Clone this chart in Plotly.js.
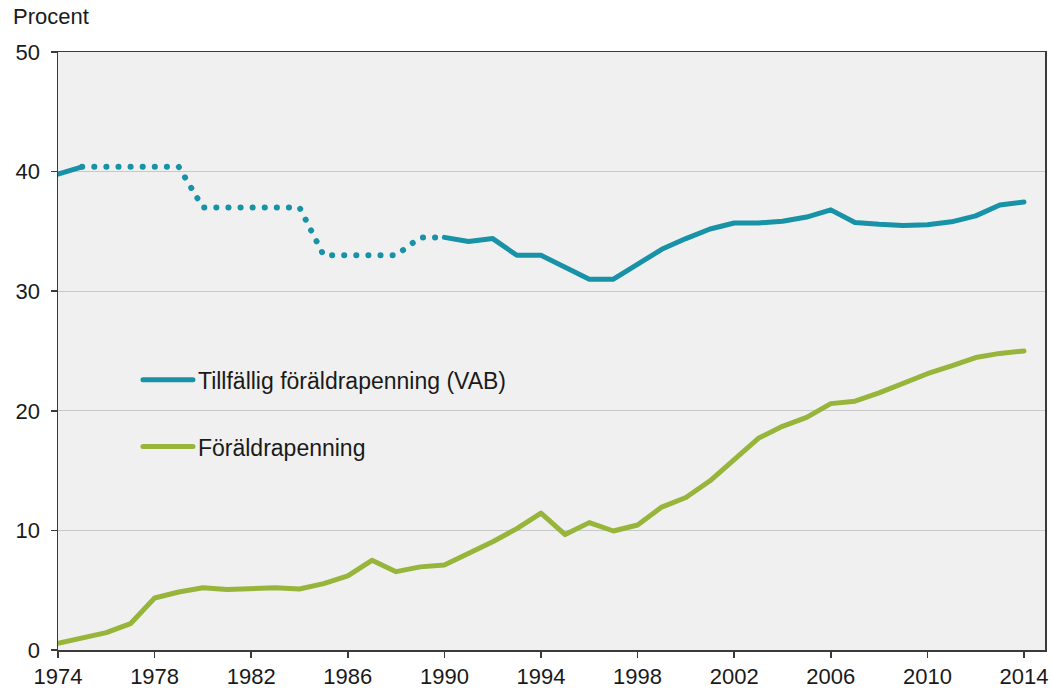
<!DOCTYPE html>
<html>
<head>
<meta charset="utf-8">
<script src="https://cdn.plot.ly/plotly-3.0.1.min.js"></script>
<style>html,body{margin:0;padding:0;background:#fff;}#chart{width:1051px;height:688px;}</style>
</head>
<body>
<div id="chart"></div>
<script>
// Tillfällig föräldrapenning (VAB) – solid start
const vabStartYears = [1974, 1975];
const vabStartValues = [39.8, 40.4];
// VAB – dotted (uncertain) segment
const vabDotYears = [1975,1976,1977,1978,1979,1980,1981,1982,1983,1984,1985,1986,1987,1988,1989,1990];
const vabDotValues = [40.4,40.4,40.4,40.4,40.4,37.0,37.0,37.0,37.0,37.0,33.0,33.0,33.0,33.0,34.5,34.5];
// VAB – solid segment
const vabYears = [1990,1991,1992,1993,1994,1995,1996,1997,1998,1999,2000,2001,2002,2003,2004,2005,2006,2007,2008,2009,2010,2011,2012,2013,2014];
const vabValues = [34.5,34.15,34.4,33.0,33.0,32.0,31.0,31.0,32.3,33.5,34.4,35.2,35.7,35.7,35.85,36.2,36.8,35.75,35.6,35.5,35.55,35.8,36.3,37.2,37.45];
// Föräldrapenning
const fpYears = [1974,1975,1976,1977,1978,1979,1980,1981,1982,1983,1984,1985,1986,1987,1988,1989,1990,1991,1992,1993,1994,1995,1996,1997,1998,1999,2000,2001,2002,2003,2004,2005,2006,2007,2008,2009,2010,2011,2012,2013,2014];
const fpValues = [0.56,1.0,1.45,2.2,4.35,4.85,5.2,5.05,5.1,5.2,5.1,5.55,6.2,7.5,6.55,6.95,7.1,8.05,9.05,10.15,11.45,9.65,10.65,9.95,10.45,11.95,12.75,14.15,15.95,17.7,18.7,19.45,20.6,20.8,21.5,22.35,23.1,23.75,24.45,24.8,25.0];
const xTicks = [1974,1978,1982,1986,1990,1994,1998,2002,2006,2010,2014];
const yTicks = [0,10,20,30,40,50];
const vabName = 'Tillfällig föräldrapenning (VAB)';
const fpName = 'Föräldrapenning';

const teal = '#1792a7';
const green = '#97b43b';

const traces = [
  {x: vabStartYears, y: vabStartValues, type:'scatter', mode:'lines', line:{color:teal, width:5}, showlegend:false, hoverinfo:'skip'},
  {x: vabDotYears, y: vabDotValues, type:'scatter', mode:'lines', line:{color:teal, width:6, dash:'2px,10px'}, showlegend:false, hoverinfo:'skip', name:'dots'},
  {x: vabYears, y: vabValues, type:'scatter', mode:'lines', name: vabName, legendgroup:'a', line:{color:teal, width:5}},
  {x: fpYears, y: fpValues, type:'scatter', mode:'lines', name: fpName, legendgroup:'b', line:{color:green, width:5}}
];

const layout = {
  width:1051, height:688,
  margin:{l:58, r:6, t:52, b:38},
  paper_bgcolor:'#ffffff',
  plot_bgcolor:'#f0f0f0',
  font:{family:'Liberation Sans, Arial, sans-serif', size:22, color:'#1a1a1a'},
  xaxis:{
    range:[1974, 2014.87], tickvals:xTicks, ticktext:xTicks.map(String),
    showgrid:false, zeroline:false, showline:true, linecolor:'#3a3a3a', linewidth:1.5, mirror:true,
    ticks:'outside', ticklen:6, tickcolor:'#3a3a3a', tickwidth:1.5, tickfont:{size:22}
  },
  yaxis:{
    range:[0,50], tickvals:yTicks, showgrid:true, gridcolor:'#c8c8c8', gridwidth:1.2,
    zeroline:false, showline:true, linecolor:'#3a3a3a', linewidth:1.5, mirror:true,
    ticks:'outside', ticklen:6, tickcolor:'#3a3a3a', tickwidth:1.5, tickfont:{size:22},
    ticklabelstandoff:6
  },
  showlegend:true,
  legend:{x:0.081, y:0.488, xanchor:'left', yanchor:'top', bgcolor:'rgba(0,0,0,0)', borderwidth:0,
          font:{size:23, color:'#1a1a1a'}, tracegroupgap:34, itemwidth:50},
  annotations:[{text:'Procent', xref:'paper', yref:'paper', x:0, y:1, xanchor:'left', yanchor:'bottom',
                xshift:-47, yshift:21, showarrow:false, font:{size:22, color:'#1a1a1a'}}]
};

Plotly.newPlot('chart', traces, layout, {displayModeBar:false, staticPlot:true}).then(function(){
  const paths = document.querySelectorAll('.scatterlayer .trace path.js-line');
  paths.forEach(function(p, i){
    p.style.strokeLinecap = 'round';
    p.style.strokeLinejoin = 'round';
  });
  if (paths[1]) { paths[1].style.strokeDasharray = '0.1px,12px'; }
  document.querySelectorAll('.legend path.js-line').forEach(function(p){
    p.style.strokeLinecap = 'round';
  });
});
</script>
</body>
</html>
